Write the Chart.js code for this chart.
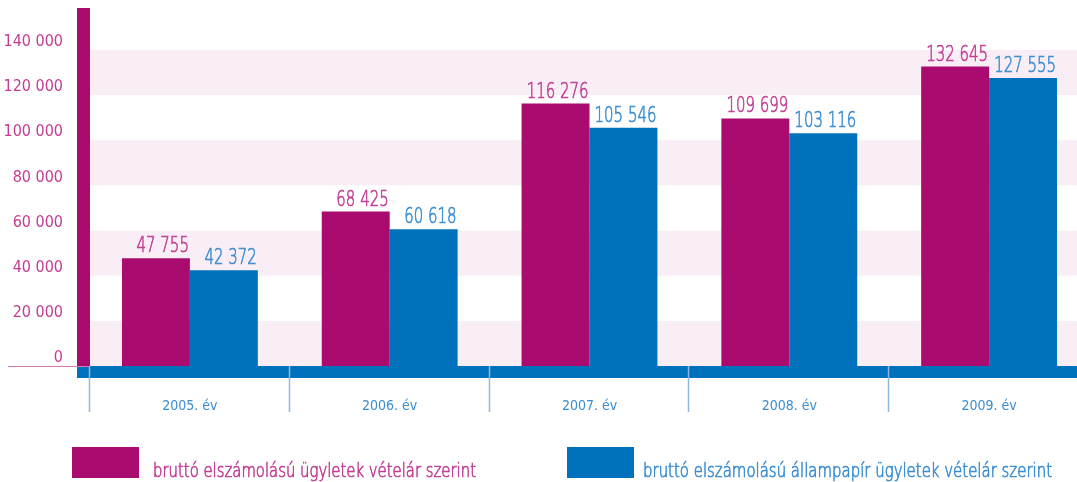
<!DOCTYPE html>
<html>
<head>
<meta charset="utf-8">
<script src="https://cdn.jsdelivr.net/npm/chart.js@4.4.1/dist/chart.umd.min.js"></script>
<style>
  html, body { margin: 0; padding: 0; background: #fff; overflow: hidden; }
  #wrap { width: 1077px; height: 482px; overflow: hidden; }
</style>
</head>
<body>
<div id="wrap"><canvas id="chart" width="1089" height="482"></canvas></div>
<script>
// ===== DATA =====
const years = ["2005. év", "2006. év", "2007. év", "2008. év", "2009. év"];
const grossDeals = [47755, 68425, 116276, 109699, 132645];
const grossBondDeals = [42372, 60618, 105546, 103116, 127555];
const yTicks = [0, 20000, 40000, 60000, 80000, 100000, 120000, 140000];
const seriesNames = [
  "bruttó elszámolású ügyletek vételár szerint",
  "bruttó elszámolású állampapír ügyletek vételár szerint"
];

// ===== STYLE =====
const MAGENTA = "#a90b6f";
const BLUE = "#0071bc";
const MAGENTA_TEXT = "#c23d93";
const BLUE_TEXT = "#3a8dd2";
const BAND = "#f9eef5";
const FONT = "'DejaVu Sans Condensed', 'DejaVu Sans', sans-serif";
const LIGHT = "200 {s}px 'DejaVu Sans', sans-serif";

function fmt(v) {
  return String(v).replace(/\B(?=(\d{3})+(?!\d))/g, " ");
}

// squeezes text to a given width (the original uses a narrow light font)
function narrowText(ctx, txt, x, y, sx) {
  ctx.save();
  ctx.translate(x, y);
  ctx.scale(sx, 1);
  ctx.lineWidth = 0.7;
  ctx.strokeStyle = ctx.fillStyle;
  ctx.fillText(txt, 0, 0);
  ctx.strokeText(txt, 0, 0);
  ctx.restore();
}

// ===== DECORATION PLUGIN =====
const decor = {
  id: "decor",
  beforeDatasetsDraw(chart) {
    const { ctx, chartArea, scales } = chart;
    const y = scales.y;
    ctx.save();
    ctx.fillStyle = BAND;
    for (let v = 0; v < 140000; v += 40000) {
      const top = y.getPixelForValue(v + 20000);
      const bot = y.getPixelForValue(v);
      ctx.fillRect(chartArea.left, top, chartArea.right - chartArea.left, bot - top);
    }
    ctx.restore();
  },
  afterDatasetsDraw(chart) {
    const { ctx, chartArea, scales } = chart;
    const y0 = scales.y.getPixelForValue(0);
    ctx.save();

    // value labels
    ctx.font = LIGHT.replace("{s}", 22);
    ctx.textAlign = "right";
    ctx.textBaseline = "alphabetic";
    chart.data.datasets.forEach((ds, i) => {
      const meta = chart.getDatasetMeta(i);
      ctx.fillStyle = i === 0 ? MAGENTA_TEXT : BLUE_TEXT;
      meta.data.forEach((bar, j) => {
        narrowText(ctx, fmt(ds.data[j]), bar.x + bar.width / 2 - 1, bar.y - 6, 0.68);
      });
    });

    // magenta axis bar and blue base band
    ctx.fillStyle = MAGENTA;
    ctx.fillRect(chartArea.left - 13, chartArea.top, 13, y0 - chartArea.top);
    ctx.fillStyle = BLUE;
    ctx.fillRect(chartArea.left - 13, y0, chartArea.right - chartArea.left + 13, 12);

    // pink zero line
    ctx.strokeStyle = "#d27ab0";
    ctx.lineWidth = 1;
    ctx.beginPath();
    ctx.moveTo(8, y0 + 0.5);
    ctx.lineTo(chartArea.left, y0 + 0.5);
    ctx.stroke();

    // category separators
    ctx.strokeStyle = "#8db8e3";
    ctx.lineWidth = 1.5;
    const step = (chartArea.right - chartArea.left) / years.length;
    for (let i = 0; i < years.length; i++) {
      const sx = Math.round(chartArea.left + i * step) - 0.5;
      ctx.beginPath();
      ctx.moveTo(sx, y0);
      ctx.lineTo(sx, y0 + 46);
      ctx.stroke();
    }

    // legend
    const items = [
      { box: 72, text: 153, color: MAGENTA, tc: MAGENTA_TEXT },
      { box: 567, text: 643, color: BLUE, tc: BLUE_TEXT }
    ];
    ctx.font = LIGHT.replace("{s}", 19);
    ctx.textAlign = "left";
    items.forEach((it, i) => {
      ctx.fillStyle = it.color;
      ctx.fillRect(it.box, 447, 67, 31);
      ctx.fillStyle = it.tc;
      const w = ctx.measureText(seriesNames[i]).width;
      const target = i === 0 ? 323 : 409;
      narrowText(ctx, seriesNames[i], it.text, 477, target / w);
    });
    ctx.restore();
  }
};

// ===== CHART =====
new Chart(document.getElementById("chart"), {
  type: "bar",
  data: {
    labels: years,
    datasets: [
      { label: seriesNames[0], data: grossDeals, backgroundColor: MAGENTA },
      { label: seriesNames[1], data: grossBondDeals, backgroundColor: BLUE }
    ]
  },
  options: {
    responsive: false,
    animation: false,
    layout: { padding: { top: 8, left: 0, right: 0, bottom: 0 } },
    plugins: { legend: { display: false }, tooltip: { enabled: false } },
    datasets: { bar: { categoryPercentage: 0.68, barPercentage: 1.0 } },
    scales: {
      x: {
        grid: { display: false, drawTicks: false },
        border: { display: false },
        ticks: { color: BLUE_TEXT, font: { family: FONT, size: 14 }, padding: 32 },
        afterFit(scale) { scale.height = 116; }
      },
      y: {
        min: 0,
        max: 158600,
        grid: { display: false, drawTicks: false },
        border: { display: false },
        ticks: {
          autoSkip: false,
          color: MAGENTA_TEXT,
          font: { family: FONT, size: 16 },
          padding: 27,
          labelOffset: -8,
          callback: v => fmt(v)
        },
        afterBuildTicks(scale) {
          scale.ticks = yTicks.map(v => ({ value: v }));
        },
        afterFit(scale) {
          scale.width = 90;
          // tick padding should not push the plot area down
          scale.paddingTop = 0;
          scale.paddingBottom = 0;
        }
      }
    }
  },
  plugins: [decor]
});
</script>
</body>
</html>
